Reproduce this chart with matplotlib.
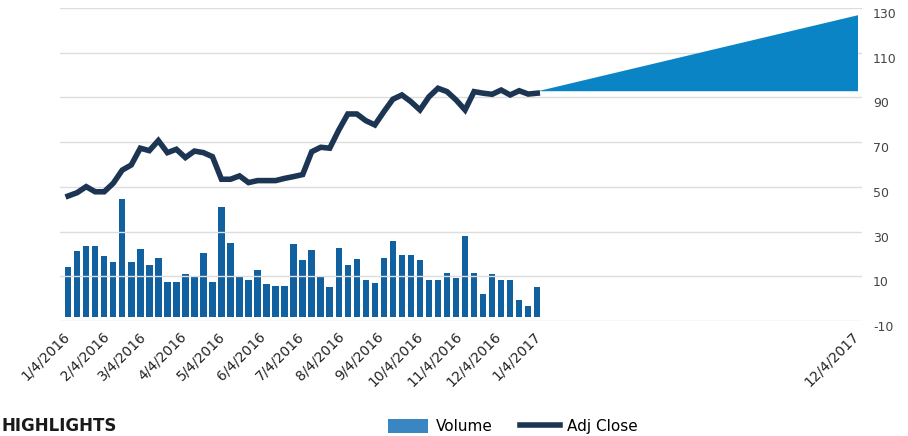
import matplotlib
matplotlib.use('Agg')
import matplotlib.pyplot as plt
import matplotlib.transforms as mtransforms
from matplotlib.patches import Patch
from matplotlib.lines import Line2D

plt.rcParams['axes.unicode_minus'] = False

# weekly data, 1/4/2016 .. 1/2/2017 (week index 0..52)
volume = [22.6, 29.8, 32.0, 32.2, 27.5, 24.9, 53.3, 24.9, 30.7, 23.7,
          26.7, 15.8, 15.8, 19.2, 18.1, 29.0, 15.8, 49.9, 33.3, 18.4,
          16.9, 21.1, 14.9, 13.9, 13.9, 33.0, 25.7, 30.2, 18.0, 13.5,
          31.3, 23.4, 26.3, 16.9, 15.1, 26.9, 34.3, 28.0, 28.1, 25.7,
          16.9, 16.9, 19.9, 17.6, 36.9, 19.9, 10.5, 19.6, 16.9, 16.9,
          7.8, 4.8, 13.3]
adj_close = [45.9, 47.4, 50.1, 47.8, 47.8, 51.6, 57.5, 59.8, 67.3, 66.2,
             70.7, 65.3, 66.8, 63.1, 66.0, 65.3, 63.5, 53.4, 53.4, 54.9,
             51.9, 52.8, 52.8, 52.8, 53.8, 54.6, 55.5, 65.7, 67.7, 67.3,
             75.4, 82.6, 82.6, 79.6, 77.7, 83.6, 89.2, 91.1, 88.1, 84.4,
             90.3, 94.1, 92.6, 88.9, 84.4, 92.6, 91.9, 91.4, 93.3, 91.1,
             93.0, 91.5, 91.9]
weeks = list(range(len(adj_close)))

# projection wedge
proj_x = [52, 87.5]
proj_low = [93, 93]
proj_high = [93, 127]

tick_pos = [0, 4.43, 8.57, 13.0, 17.29, 21.71, 26.0, 30.43, 34.86, 39.14, 43.57, 47.86, 52.29, 87.5]
tick_labels = ['1/4/2016', '2/4/2016', '3/4/2016', '4/4/2016', '5/4/2016', '6/4/2016',
               '7/4/2016', '8/4/2016', '9/4/2016', '10/4/2016', '11/4/2016', '12/4/2016',
               '1/4/2017', '12/4/2017']

fig = plt.figure(figsize=(9.08, 4.36), dpi=100)
ax = fig.add_axes([60 / 908, 115 / 436, 802 / 908, 313 / 436])
ax2 = ax.twinx()
ax.set_zorder(ax2.get_zorder() + 1)
ax.patch.set_visible(False)

# volume bars on hidden axis
ax2.bar(weeks, volume, width=0.72, color='#11609f', zorder=2)
ax2.set_ylim(-1.95, 140.3)
ax2.set_yticks([])
for s in ax2.spines.values():
    s.set_visible(False)

# price line + projection
ax.plot(weeks, adj_close, color='#1c3553', lw=4, solid_joinstyle='miter', zorder=3)
ax.fill_between(proj_x, proj_low, proj_high, color='#0b84c5', lw=0, zorder=2)

ax.set_xlim(-0.9, 88.0)
ax.set_ylim(-10, 130)
ax.set_yticks(range(-10, 131, 20))
ax.yaxis.tick_right()
ax.tick_params(axis='y', length=0, pad=8, labelsize=9, labelcolor='#444444')
for lbl in ax.get_yticklabels():
    lbl.set_verticalalignment('top')
ax.grid(axis='y', color='#dddddd', lw=1)
ax.set_axisbelow(True)
for s in ax.spines.values():
    s.set_visible(False)

ax.set_xticks(tick_pos)
ax.set_xticklabels(tick_labels, rotation=45, ha='right', va='top',
                   rotation_mode='anchor', fontsize=10, color='#222222')
ax.tick_params(axis='x', length=0, pad=6)
shift = mtransforms.ScaledTranslation(-6 / 100, 0, fig.dpi_scale_trans)
for lbl in ax.get_xticklabels():
    lbl.set_transform(lbl.get_transform() + shift)

handles = [Patch(facecolor='#3a86c2', edgecolor='none'),
           Line2D([0], [0], color='#1c3553', lw=4)]
fig.legend(handles, ['Volume', 'Adj Close'], loc='center', bbox_to_anchor=(0.565, 0.022),
           ncol=2, frameon=False, fontsize=11, handlelength=2.6, handleheight=1.0,
           columnspacing=1.8, handletextpad=0.5)

fig.text(0.002, 0.003, 'HIGHLIGHTS', fontsize=12, fontweight='bold', va='bottom', ha='left', color='#1a1a1a')

fig.savefig('out.png', dpi=100)
